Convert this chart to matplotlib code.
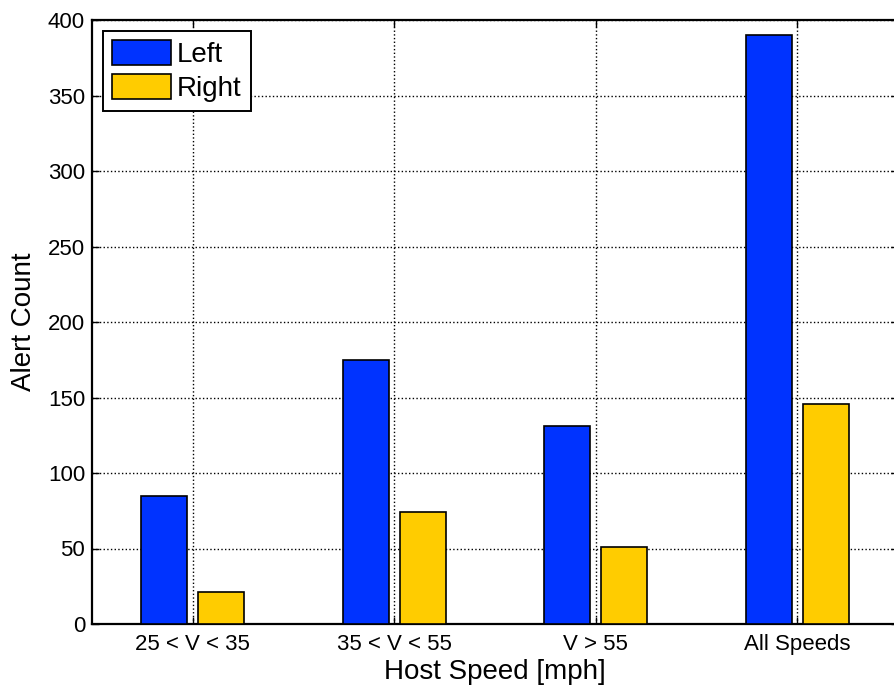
import numpy as np
import matplotlib.pyplot as plt

plt.rcParams['font.family'] = ['Liberation Sans', 'DejaVu Sans']

categories = ['25 < V < 35', '35 < V < 55', 'V > 55', 'All Speeds']
left_counts = [85, 175, 131, 390]
right_counts = [21, 74, 51, 146]

fig = plt.figure(figsize=(8.95, 6.86), dpi=100)
ax = fig.add_axes([92 / 895, 62 / 686, 806 / 895, 604 / 686])

x = np.arange(1, len(categories) + 1)
w = 0.228
ax.bar(x - 0.142, left_counts, w, color='#0033FF', edgecolor='black', linewidth=1.2, label='Left', zorder=3)
ax.bar(x + 0.142, right_counts, w, color='#FFCC00', edgecolor='black', linewidth=1.2, label='Right', zorder=3)

ax.set_xlim(0.5, 4.5)
ax.set_ylim(0, 400)
ax.set_xticks(x)
ax.set_xticklabels(categories)
ax.set_yticks(np.arange(0, 401, 50))
ax.tick_params(direction='in', top=True, right=True, labelsize=16, length=5, width=1, pad=5)
ax.tick_params(axis='x', pad=7)
ax.grid(True, color='black', linestyle=':', linewidth=1, zorder=0)
ax.set_axisbelow(True)
for s in ax.spines.values():
    s.set_linewidth(1.6)

ax.set_xlabel('Host Speed [mph]', fontsize=20, labelpad=3)
ax.set_ylabel('Alert Count', fontsize=20, labelpad=8)

leg = ax.legend(loc='upper left', fontsize=20, fancybox=False, framealpha=1,
                edgecolor='black', handlelength=2.1, handleheight=1.0,
                borderpad=0.35, labelspacing=0.2, handletextpad=0.22,
                borderaxespad=0.38)
leg.get_frame().set_linewidth(1.4)

fig.savefig('out.png', dpi=100)
